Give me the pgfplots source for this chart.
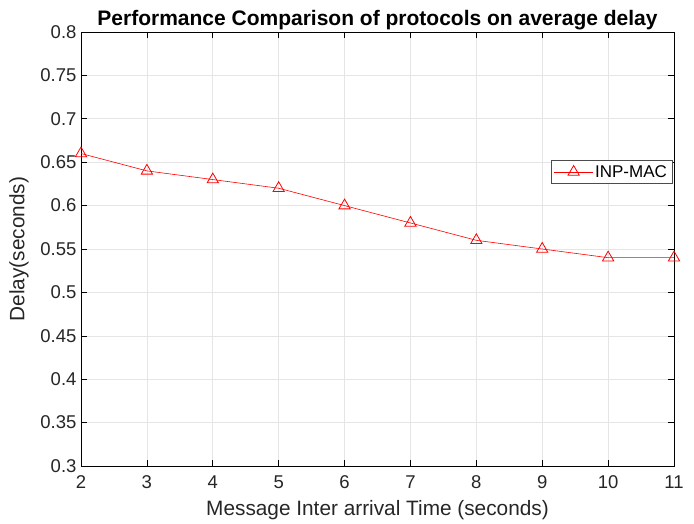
\documentclass[border=0pt]{standalone}
\usepackage{pgfplots}
\pgfplotsset{compat=1.18}
\usepackage{fontspec}
\setmainfont{Liberation Sans}
\begin{document}
\begin{tikzpicture}
\begin{axis}[
  scale only axis,
  width=593pt, height=434pt,
  xmin=2, xmax=11, ymin=0.3, ymax=0.8,
  xtick={2,...,11},
  ytick={0.3,0.35,...,0.8},
  yticklabels={0.3,0.35,0.4,0.45,0.5,0.55,0.6,0.65,0.7,0.75,0.8},
  tick align=inside,
  major tick length=6pt,
  grid=major,
  grid style={gray!20, line width=0.6pt},
  axis line style={black, line width=0.6pt},
  tick style={black, line width=0.6pt},
  /pgf/number format/assume math mode=true,
  ticklabel style={font=\fontsize{18.5}{21}\selectfont, text=black!85},
  xticklabel style={yshift=-6pt},
  yticklabel style={xshift=-1pt},
  xlabel={Message Inter arrival Time (seconds)},
  ylabel={Delay(seconds)},
  label style={font=\fontsize{20.8}{24}\selectfont, text=black!85},
  xlabel style={yshift=-5pt},
  ylabel style={yshift=5pt},
  title={\textbf{Performance Comparison of protocols on average delay}},
  title style={font=\fontsize{21}{24}\selectfont, yshift=-7pt},
  legend style={at={(rel axis cs:0.997,0.705)}, anchor=north east, font=\fontsize{17}{20}\selectfont, draw=black!70, line width=0.6pt, inner sep=3pt},
  legend image code/.code={\draw[#1] (0cm,0cm) -- (1.35cm,0cm); \draw[#1, mark repeat=2, mark phase=2] plot coordinates {(0cm,0cm) (0.675cm,0cm) (1.35cm,0cm)};},
  legend cell align=left,
]
\addplot[red, line width=0.6pt, mark=triangle, mark size=6.5pt, mark options={solid, line width=0.8pt}]
coordinates {(2,0.66)(3,0.64)(4,0.63)(5,0.62)(6,0.60)(7,0.58)(8,0.56)(9,0.55)(10,0.54)(11,0.54)};
\addlegendentry{INP-MAC}
\end{axis}
\path ([xshift=-81pt,yshift=-56pt]current axis.south west) rectangle ([xshift=20pt,yshift=32pt]current axis.north east);
\end{tikzpicture}
\end{document}
